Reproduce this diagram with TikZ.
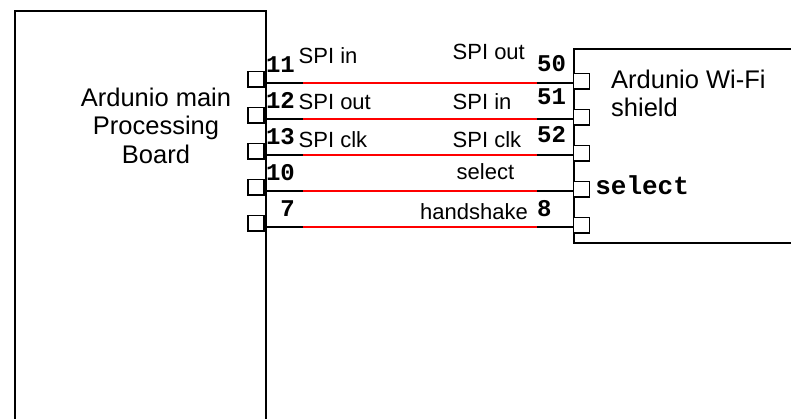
\documentclass[tikz,border=0pt]{standalone}
\usepackage{fontspec}
\setmainfont{Liberation Sans}
\setmonofont{Liberation Mono}
\usetikzlibrary{calc}

\begin{document}
\begin{tikzpicture}[
  x=1pt, y=-1pt,
  board/.style={rectangle, draw=black, line width=2pt, fill=white, inner sep=0pt, anchor=north west},
  boardlabel/.style={font=\fontsize{25.5}{28.5}\selectfont, inner sep=0pt},
  pin/.style={rectangle, draw=black, line width=1.6pt, fill=white,
    minimum width=16pt, minimum height=15.5pt, inner sep=0pt},
  wire/.style={line width=1.5pt, black},
  sig/.style={line width=1.5pt, red},
  num/.style={font=\fontsize{24}{24}\selectfont\ttfamily\bfseries, inner sep=0pt},
  sname/.style={font=\fontsize{22}{22}\selectfont, inner sep=0pt}
]
\useasboundingbox (0,0) rectangle (791,419);
\clip (0,0) rectangle (791,419);

% ---- BOARDS ----
\node[board, minimum width=251pt, minimum height=440pt] (main) at (14,10) {};
\node[board, minimum width=240pt, minimum height=193.7pt] (shield) at (572.5,48.3) {};
% base anchor sits on the last line
\node[boardlabel, align=center, anchor=base] (mainlbl) at (156,163.3) {Ardunio main\\Processing\\Board};
\node[boardlabel, align=left, anchor=base west] (shieldlbl) at (611,116.7) {Ardunio Wi-Fi\\shield};

% ---- PINS AND WIRES ----
\foreach \i/\y in {1/83,2/119,3/155,4/191,5/227} {
  \coordinate (a\i) at (265,\y);
  \coordinate (b\i) at (572.5,\y);
  \node[pin, anchor=south east] (lp\i) at ($(a\i)+(0,5)$) {};
  \node[pin, anchor=south west] (rp\i) at ($(b\i)+(0,7)$) {};
  \draw[wire] (a\i) -- (b\i);
  \draw[sig] ($(a\i)+(38,0)$) -- ($(b\i)+(-36,0)$);
}

% ---- PIN NUMBERS ----
\foreach \i/\n in {1/11,2/12,3/13,4/10,5/7}
  \node[num, anchor=base east] (ln\i) at ($(a\i)+(30,-10.5)$) {\n};
\node[num, anchor=base west] (rn1) at ($(b1)+(-35.5,-11)$) {50};
\node[num, anchor=base west] (rn2) at ($(b2)+(-35.5,-14)$) {51};
\node[num, anchor=base west] (rn3) at ($(b3)+(-35.5,-12)$) {52};
\node[num, anchor=base west] (rn5) at ($(b5)+(-35.5,-10.5)$) {8};
\node[num, font=\fontsize{26}{26}\selectfont\ttfamily\bfseries, anchor=base west] (selpin) at ($(rp4.east)+(5,5)$) {select};

% ---- SIGNAL NAMES ----
\node[sname, anchor=base west] (s1) at ($(a1)+(33.5,-19)$) {SPI in};
\node[sname, anchor=base west] (s2) at ($(a2)+(33.5,-9)$) {SPI out};
\node[sname, anchor=base west] (s3) at ($(a3)+(33.5,-7)$) {SPI clk};
\node[sname, anchor=base west] (t1) at ($(b1)+(-120,-23)$) {SPI out};
\node[sname, anchor=base west] (t2) at ($(b2)+(-120,-9)$) {SPI in};
\node[sname, anchor=base west] (t3) at ($(b3)+(-120,-7)$) {SPI clk};
\node[sname, anchor=base west] (t4) at ($(b4)+(-116,-11)$) {select};
\node[sname, anchor=base west] (t5) at ($(b5)+(-152.5,-7)$) {handshake};
\end{tikzpicture}
\end{document}
